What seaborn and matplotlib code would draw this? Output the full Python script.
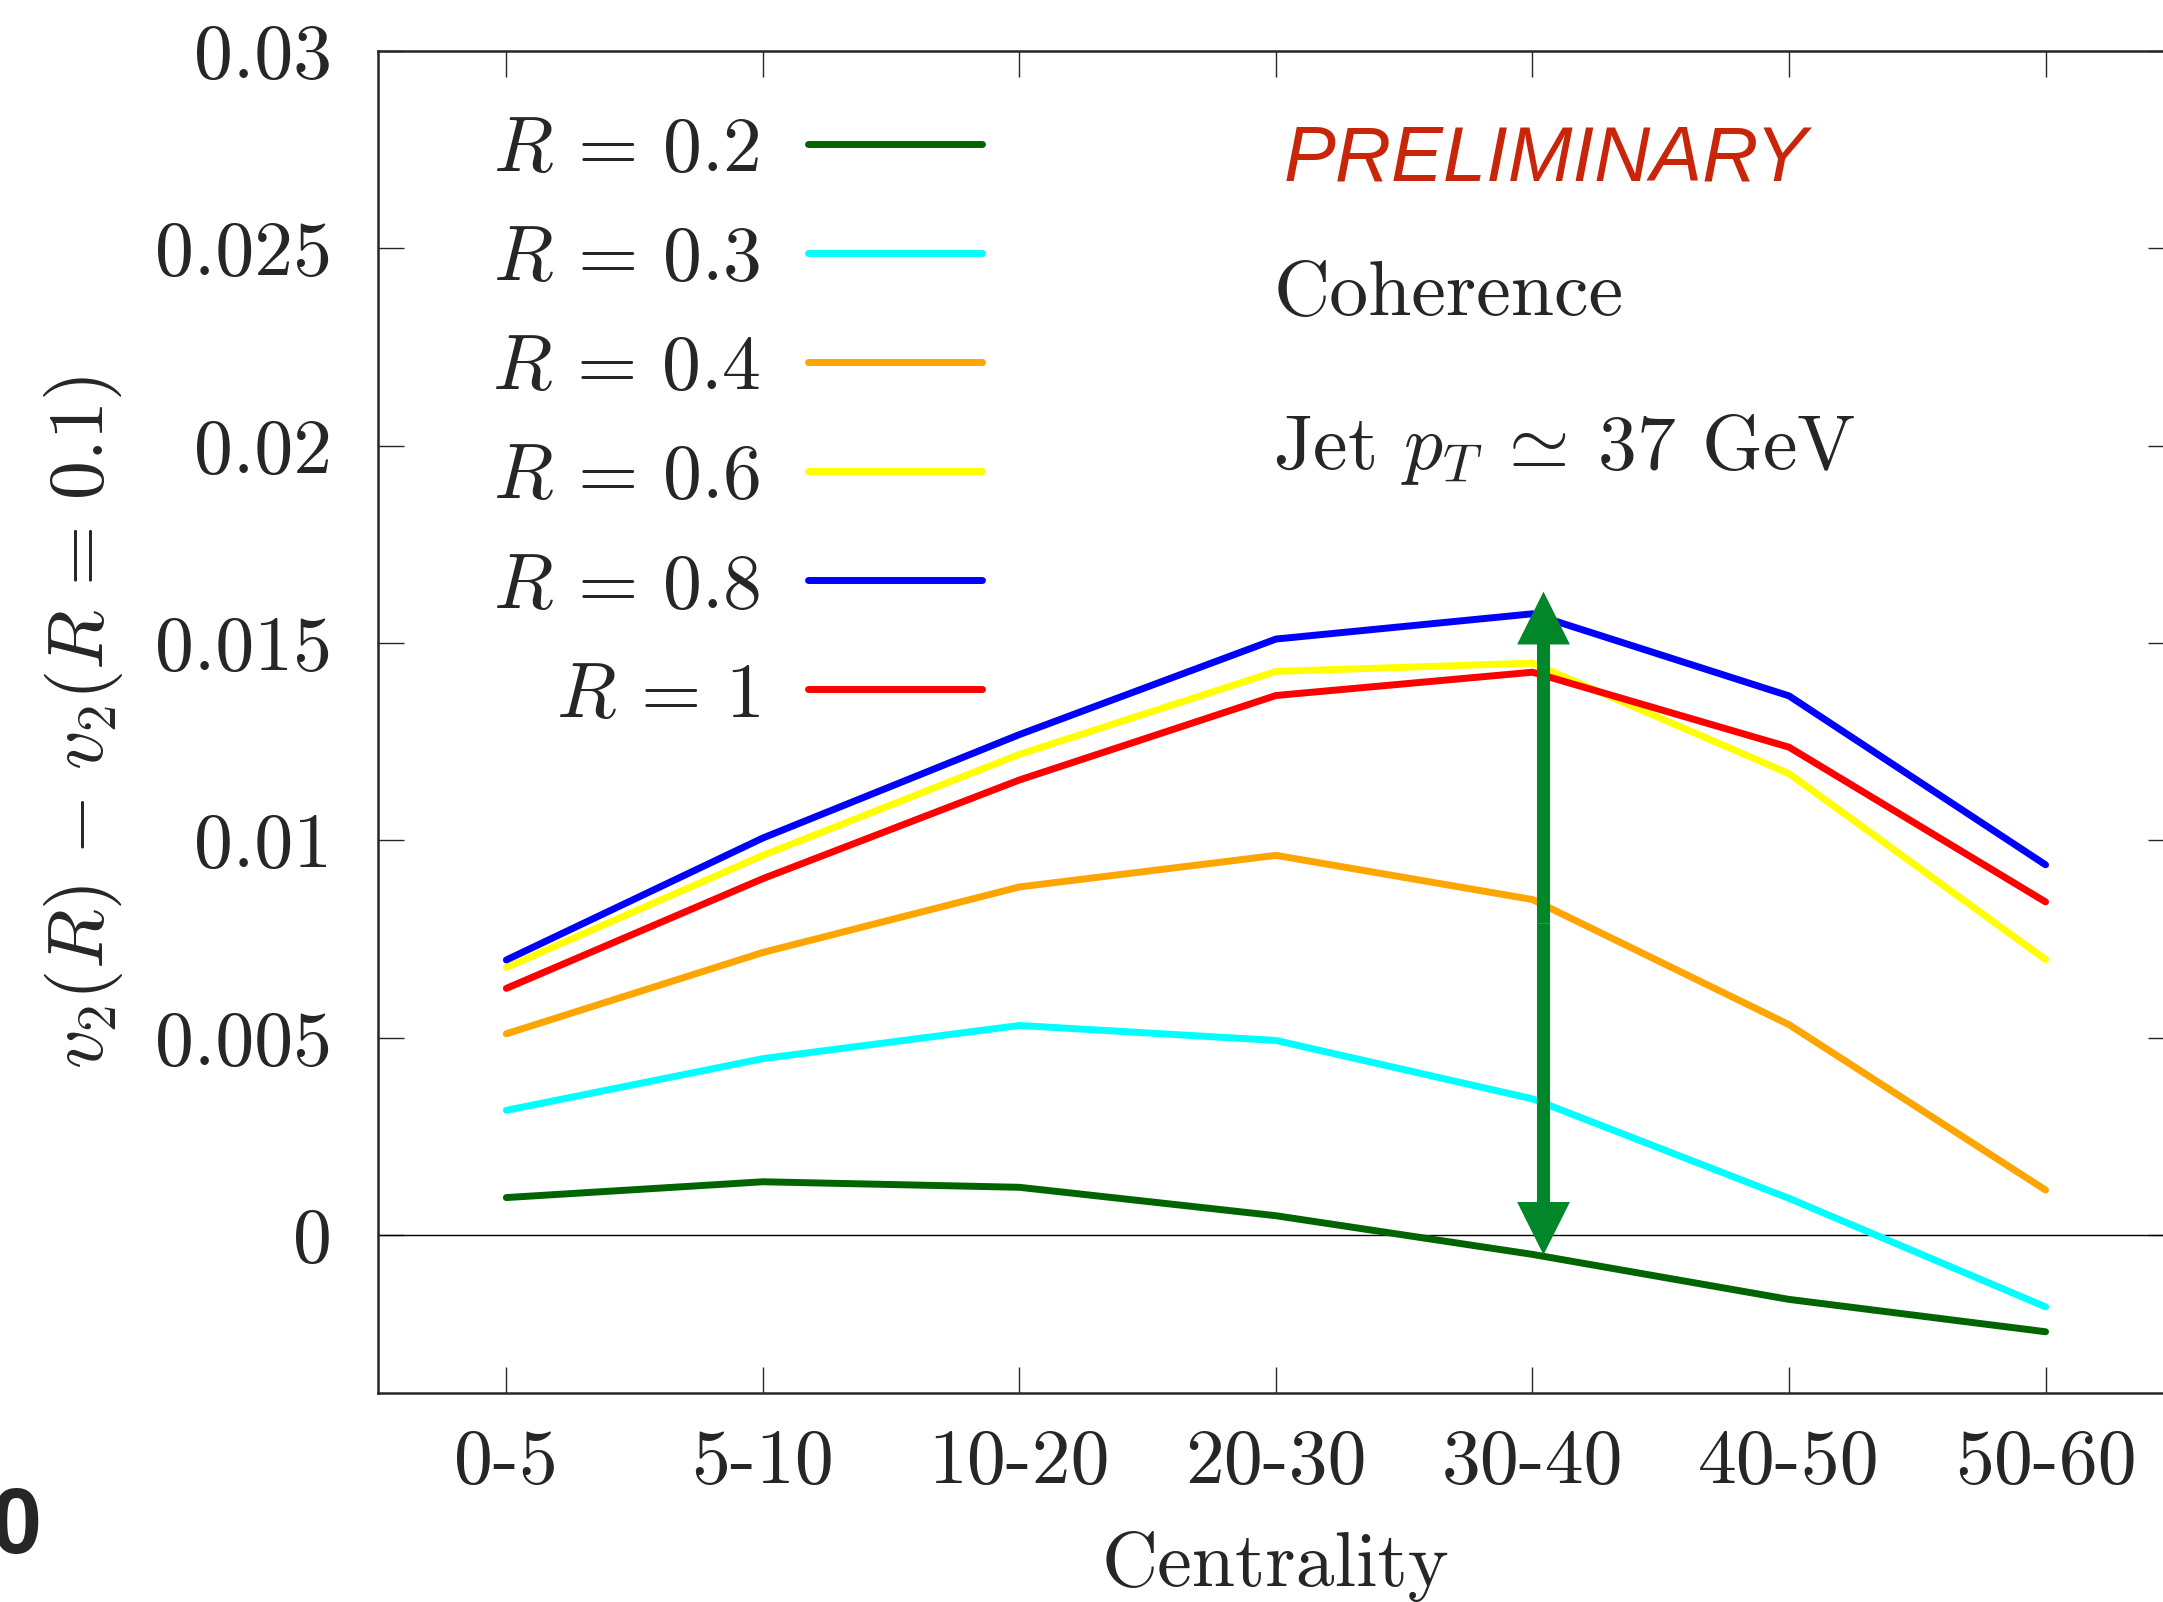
import numpy as np
import pandas as pd
import matplotlib
matplotlib.use('Agg')
import matplotlib.pyplot as plt
import seaborn as sns

# Dados
centralidade = ['0-5', '5-10', '10-20', '20-30', '30-40', '40-50', '50-60']
rotulos = [r'$R\,=\,0.2$', r'$R\,=\,0.3$', r'$R\,=\,0.4$', r'$R\,=\,0.6$', r'$R\,=\,0.8$', r'$R\,=\,1$']
v2_r02 = [0.00095, 0.00135, 0.00121, 0.00049, -0.00049, -0.00163, -0.00245]
v2_r03 = [0.00316, 0.00447, 0.00531, 0.00493, 0.00345, 0.00093, -0.00182]
v2_r04 = [0.00510, 0.00716, 0.00882, 0.00962, 0.00850, 0.00533, 0.00114]
v2_r06 = [0.00678, 0.00962, 0.01218, 0.01428, 0.01449, 0.01169, 0.00698]
v2_r08 = [0.00697, 0.01006, 0.01268, 0.01510, 0.01574, 0.01366, 0.00938]
v2_r10 = [0.00625, 0.00903, 0.01153, 0.01367, 0.01426, 0.01236, 0.00844]
cores = ['#006400', '#00ffff', '#ffa500', '#ffff00', '#0000ff', '#ff0000']

yticks = [0, 0.005, 0.01, 0.015, 0.02, 0.025, 0.03]
yticklabels = ['0', '0.005', '0.01', '0.015', '0.02', '0.025', '0.03']

# seta entre R=0.2 e R=0.8 em 30-40
seta_x = 4.043
seta_baixo = -0.0005
seta_cima = 0.0163

series = [v2_r02, v2_r03, v2_r04, v2_r06, v2_r08, v2_r10]
df = pd.DataFrame({
    'pos': np.tile(np.arange(len(centralidade)), len(series)),
    'v2': np.concatenate(series),
    'R': np.repeat(rotulos, len(centralidade)),
})

sns.set_style('ticks')
plt.rcParams['font.family'] = 'serif'
plt.rcParams['font.serif'] = ['cmr10']
plt.rcParams['mathtext.fontset'] = 'cm'
plt.rcParams['axes.unicode_minus'] = False
plt.rcParams['axes.formatter.use_mathtext'] = True

FS = 56

fig = plt.figure(figsize=(21.63, 16.02), dpi=100)
ax = fig.add_axes([0.1748, 0.1305, 0.8302, 0.8377])

ax.axhline(0, color='black', lw=1, zorder=1)
sns.lineplot(data=df, x='pos', y='v2', hue='R', hue_order=rotulos, palette=cores,
             lw=5, ax=ax, sort=False, zorder=3)

ax.set_xlim(-0.5, 6.5)
ax.set_ylim(-0.004, 0.03)
ax.set_xticks(range(len(centralidade)))
ax.set_xticklabels(centralidade)
ax.set_yticks(yticks)
ax.set_yticklabels(yticklabels)
ax.tick_params(direction='in', length=19, width=1, top=True, right=True, labelsize=FS)
ax.tick_params(axis='x', pad=26)
ax.tick_params(axis='y', pad=33)
for s in ax.spines.values():
    s.set_linewidth(1.8)

ax.set_xlabel('Centrality', fontsize=FS, labelpad=24)
ax.set_ylabel(r'$v_2(R)\,-\,v_2(R\,=\,0.1)$', fontsize=FS, labelpad=22)

# legenda: rotulo a esquerda, linha a direita, alinhado a direita
handles, labels = ax.get_legend_handles_labels()
leg = ax.legend(handles, labels, loc='upper left', bbox_to_anchor=(0.0632, 0.951),
                frameon=False, markerfirst=False, fontsize=FS, borderpad=0,
                borderaxespad=0, handlelength=2.24, handletextpad=0.61,
                labelspacing=0.51)
for ln in leg.get_lines():
    ln.set_linewidth(5)
leg._legend_handle_box.get_children()[0].align = 'right'

# seta verde
for destino in (seta_cima, seta_baixo):
    ax.annotate('', xy=(seta_x, destino), xytext=(seta_x, (seta_cima + seta_baixo) / 2),
                arrowprops=dict(arrowstyle='simple,head_length=38,head_width=38,tail_width=9.4',
                                fc='#02862a', ec='none', lw=0, mutation_scale=1,
                                shrinkA=0, shrinkB=0), zorder=4)

ax.text(3.03, 0.02671, 'PRELIMINARY', family='Liberation Sans', style='italic',
        color='#c8260a', fontsize=56, va='baseline')
ax.text(2.99, 0.0233, 'Coherence', fontsize=FS, va='baseline')
ax.text(2.99, 0.0194, r'Jet $p_T\:\simeq\:37$ GeV', fontsize=FS, va='baseline')

fig.text(-0.0046, 0.0306, '0', family='Liberation Sans', weight='bold', fontsize=66,
         va='baseline')

fig.savefig('out.png', dpi=100)
